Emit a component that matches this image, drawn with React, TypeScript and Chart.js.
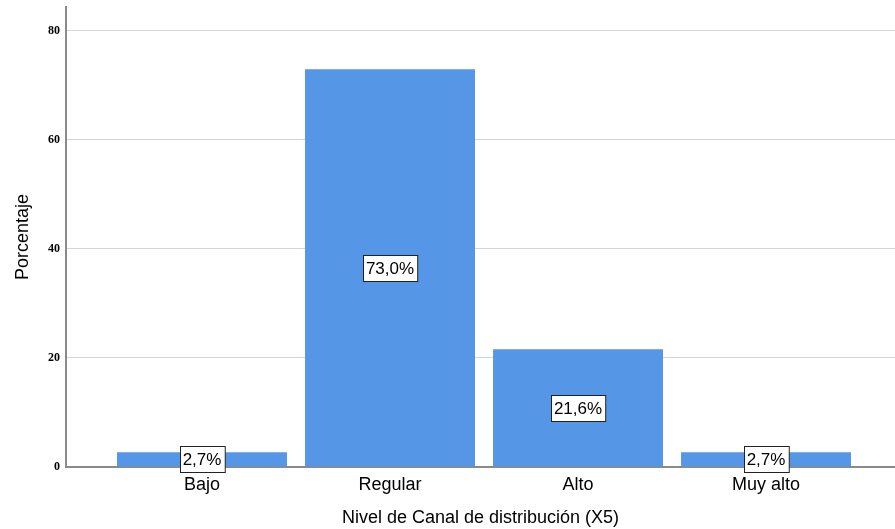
import React, { useEffect, useRef } from "react";
import { Chart, registerables } from "chart.js";

Chart.register(...registerables);

const categories: string[] = ["Bajo", "Regular", "Alto", "Muy alto"];
const percentages: number[] = [2.7, 73.0, 21.6, 2.7];
const yTickValues: number[] = [0, 20, 40, 60, 80];
const xTitle = "Nivel de Canal de distribución (X5)";
const yTitle = "Porcentaje";

const SANS = "'Liberation Sans', Arial, sans-serif";

const labelPlugin = {
  id: "boxLabels",
  afterDatasetsDraw(chart: any) {
    const ctx = chart.ctx;
    const meta = chart.getDatasetMeta(0);
    ctx.save();
    ctx.font = `17px ${SANS}`;
    ctx.textAlign = "center";
    ctx.textBaseline = "middle";
    meta.data.forEach((bar: any, i: number) => {
      const v = percentages[i];
      const text = v.toFixed(1).replace(".", ",") + "%";
      const cx = bar.x;
      const cy = (bar.y + bar.base) / 2;
      const w = ctx.measureText(text).width + 6;
      const h = 26;
      const x0 = Math.round(cx - w / 2) + 0.5;
      const y0 = Math.round(cy - h / 2) + 0.5;
      ctx.fillStyle = "#ffffff";
      ctx.fillRect(x0, y0, w, h);
      ctx.strokeStyle = "#222222";
      ctx.lineWidth = 1;
      ctx.strokeRect(x0, y0, w, h);
      ctx.fillStyle = "#000000";
      ctx.fillText(text, cx, cy + 1);
    });
    ctx.restore();
  },
};

export default function App() {
  const ref = useRef<HTMLCanvasElement | null>(null);

  useEffect(() => {
    document.body.style.margin = "0";
    const canvas = ref.current;
    if (!canvas) return;
    const chart = new Chart(canvas, {
      type: "bar",
      data: {
        datasets: [
          {
            data: percentages.map((v, i) => ({ x: i, y: v })),
            backgroundColor: "#5596e6",
            borderWidth: 0,
            categoryPercentage: 1,
            barPercentage: 0.904,
          },
        ],
      },
      options: {
        animation: false,
        responsive: false,
        maintainAspectRatio: false,
        layout: { padding: { top: 7, right: 0, left: 0, bottom: 0 } },
        plugins: {
          legend: { display: false },
          tooltip: { enabled: false },
        },
        scales: {
          x: {
            type: "linear",
            min: -0.7234,
            max: 3.686,
            offset: false,
            afterBuildTicks: (scale: any) => {
              scale.ticks = categories.map((_, i) => ({ value: i }));
            },
            afterFit: (scale: any) => {
              scale.height = 62;
              scale.paddingLeft = 0;
              scale.paddingRight = 0;
            },
            grid: { display: false, drawTicks: false },
            border: { display: true, color: "#8a8a8a", width: 2 },
            ticks: {
              autoSkip: false,
              maxRotation: 0,
              padding: 7,
              color: "#000000",
              font: { family: SANS, size: 18 },
              callback: (v: any) => categories[Number(v)] ?? "",
            },
            title: {
              display: true,
              text: xTitle,
              color: "#000000",
              font: { family: SANS, size: 18 },
              padding: { top: 6, bottom: 0 },
            },
          },
          y: {
            type: "linear",
            min: 0,
            max: 84.4,
            afterBuildTicks: (scale: any) => {
              scale.ticks = yTickValues.map((v) => ({ value: v }));
            },
            afterFit: (scale: any) => {
              scale.width = 66;
              scale.paddingTop = 0;
              scale.paddingBottom = 0;
            },
            grid: { color: "#d4d4d4", lineWidth: 1, drawTicks: false },
            border: { display: true, color: "#8a8a8a", width: 2 },
            ticks: {
              padding: 6,
              color: "#000000",
              font: { family: "'Liberation Serif', 'Times New Roman', serif", size: 12, weight: "bold" },
            },
            title: {
              display: true,
              text: yTitle,
              color: "#000000",
              font: { family: SANS, size: 18 },
              padding: { top: 12, bottom: 0 },
            },
          },
        },
      },
      plugins: [labelPlugin],
    } as any);
    return () => chart.destroy();
  }, []);

  return (
    <div style={{ position: "fixed", left: 0, top: 0, width: 895, height: 529, background: "#ffffff" }}>
      <canvas ref={ref} width={895} height={529} style={{ width: 895, height: 529, display: "block" }} />
    </div>
  );
}
